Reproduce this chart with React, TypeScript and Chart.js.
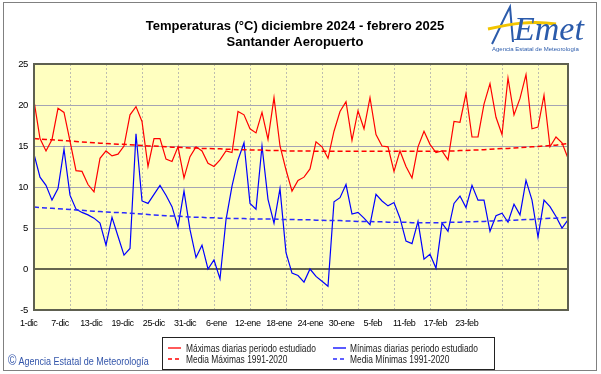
import React, { useEffect, useRef } from "react";
import { Chart, registerables } from "chart.js";

Chart.register(...registerables);

// ---- data ----
const monthNames = ["dic", "ene", "feb"];
const monthLengths = [31, 31, 28];

const xTickLabels = [
  "1-dic", "7-dic", "13-dic", "19-dic", "25-dic", "31-dic", "6-ene", "12-ene",
  "18-ene", "24-ene", "30-ene", "5-feb", "11-feb", "17-feb", "23-feb",
];

const yTicks = [-5, 0, 5, 10, 15, 20, 25];

const maxDaily = [
  20.5, 15.9, 14.4, 15.8, 19.6, 19.1, 15.6, 12.0, 11.9, 10.3,
  9.4, 13.5, 14.4, 13.8, 14.0, 15.0, 18.8, 19.8, 18.0, 12.5,
  15.9, 15.9, 13.4, 13.1, 14.9, 11.1, 13.7, 14.9, 14.4, 12.9,
  12.5, 13.3, 14.4, 14.2, 19.2, 18.8, 17.1, 16.6, 19.1, 15.8,
  20.9, 15.0, 12.1, 9.5, 10.8, 11.2, 12.2, 15.5, 14.9, 13.5,
  16.8, 19.2, 20.4, 15.7, 19.3, 17.1, 20.9, 16.4, 15.0, 14.9,
  11.9, 14.4, 12.5, 11.1, 14.9, 16.8, 15.2, 14.2, 14.4, 13.3,
  18.0, 17.9, 21.4, 16.1, 16.1, 20.1, 22.6, 18.5, 16.4, 23.3,
  18.8, 20.8, 23.7, 17.1, 17.3, 21.2, 14.9, 16.1, 15.4, 13.5,
];

const minDaily = [
  14.0, 11.2, 10.2, 8.4, 9.8, 14.6, 9.0, 7.3, 6.9, 6.6,
  6.2, 5.6, 2.9, 6.3, 4.0, 1.7, 2.5, 16.5, 8.3, 8.0,
  9.1, 10.2, 9.0, 7.6, 5.1, 9.5, 4.8, 1.4, 2.9, 0.0,
  1.1, -1.2, 6.0, 10.1, 13.3, 15.4, 8.0, 7.3, 15.0, 8.5,
  5.6, 9.8, 2.0, -0.5, -0.8, -1.6, 0.0, -0.9, -1.5, -2.1,
  8.2, 8.7, 10.3, 6.7, 6.9, 6.2, 5.4, 9.1, 8.3, 7.7,
  8.1, 6.2, 3.4, 3.1, 5.8, 1.2, 1.8, 0.1, 5.6, 4.6,
  8.0, 8.9, 7.5, 10.2, 8.4, 8.4, 4.6, 6.5, 6.8, 5.7,
  7.9, 6.6, 10.8, 8.4, 3.9, 8.4, 7.6, 6.4, 5.0, 6.0,
];

const maxMean = [
  15.9, 15.85, 15.8, 15.75, 15.7, 15.65, 15.6, 15.55, 15.5, 15.45,
  15.4, 15.35, 15.3, 15.25, 15.2, 15.2, 15.15, 15.1, 15.05, 15.0,
  15.0, 14.95, 14.9, 14.85, 14.85, 14.8, 14.75, 14.75, 14.7, 14.7,
  14.65, 14.65, 14.6, 14.6, 14.55, 14.55, 14.5, 14.5, 14.5, 14.45,
  14.45, 14.45, 14.4, 14.4, 14.4, 14.4, 14.4, 14.35, 14.35, 14.35,
  14.35, 14.35, 14.35, 14.35, 14.35, 14.35, 14.35, 14.35, 14.35, 14.35,
  14.35, 14.35, 14.35, 14.35, 14.35, 14.35, 14.35, 14.35, 14.4, 14.4,
  14.4, 14.45, 14.45, 14.5, 14.5, 14.55, 14.6, 14.65, 14.7, 14.7,
  14.75, 14.8, 14.85, 14.9, 14.95, 15.0, 15.05, 15.1, 15.2, 15.3,
];

const minMean = [
  7.55, 7.5, 7.45, 7.4, 7.35, 7.3, 7.25, 7.2, 7.15, 7.1,
  7.05, 7.0, 6.95, 6.9, 6.9, 6.85, 6.8, 6.75, 6.7, 6.65,
  6.6, 6.55, 6.5, 6.45, 6.45, 6.4, 6.35, 6.3, 6.3, 6.25,
  6.25, 6.2, 6.2, 6.15, 6.15, 6.15, 6.1, 6.1, 6.1, 6.1,
  6.1, 6.05, 6.05, 6.05, 6.0, 6.0, 6.0, 5.95, 5.95, 5.9,
  5.9, 5.9, 5.85, 5.85, 5.8, 5.8, 5.8, 5.75, 5.75, 5.7,
  5.7, 5.7, 5.7, 5.65, 5.65, 5.65, 5.65, 5.65, 5.65, 5.7,
  5.7, 5.7, 5.75, 5.75, 5.8, 5.8, 5.85, 5.85, 5.9, 5.95,
  5.95, 6.0, 6.05, 6.05, 6.1, 6.15, 6.2, 6.2, 6.25, 6.3,
];

const seriesNames = [
  "Máximas diarias periodo estudiado",
  "Mínimas diarias periodo estudiado",
  "Media Máximas 1991-2020",
  "Media Mínimas 1991-2020",
];

const days: string[] = [];
monthNames.forEach((m, i) => {
  for (let d = 1; d <= monthLengths[i]; d++) days.push(`${d}-${m}`);
});

// ---- style ----
const SANS = '"Liberation Sans", Arial, sans-serif';
const RED = "#ff0000";
const BLUE = "#0000ff";
const BLUE_MEAN = "#2a2aff";

const plotBg = {
  id: "plotBg",
  beforeDraw(chart: any) {
    const { ctx, chartArea: a } = chart;
    try { (ctx as any).letterSpacing = "-0.4px"; } catch (e) { /* ignore */ }
    ctx.save();
    ctx.fillStyle = "#ffffc0";
    ctx.fillRect(a.left, a.top, a.right - a.left, a.bottom - a.top);
    ctx.restore();
  },
  afterDatasetsDraw(chart: any) {
    const { ctx, chartArea: a } = chart;
    ctx.save();
    ctx.strokeStyle = "#5e6050";
    ctx.lineWidth = 2;
    ctx.strokeRect(a.left, a.top, a.right - a.left, a.bottom - a.top);
    ctx.restore();
  },
};

export default function App() {
  const ref = useRef<HTMLCanvasElement>(null);

  useEffect(() => {
    document.body.style.margin = "0";
    const canvas = ref.current!;
    const chart = new Chart(canvas, {
      type: "line",
      data: {
        labels: days,
        datasets: [
          { label: seriesNames[2], data: maxMean, borderColor: RED, borderWidth: 1.5, borderDash: [5, 3], pointRadius: 0, xAxisID: "x", yAxisID: "y" },
          { label: seriesNames[3], data: minMean, borderColor: BLUE_MEAN, borderWidth: 1.5, borderDash: [5, 3], pointRadius: 0, xAxisID: "x", yAxisID: "y" },
          { label: seriesNames[0], data: maxDaily, borderColor: RED, borderWidth: 1.2, pointRadius: 0, tension: 0, xAxisID: "x", yAxisID: "y" },
          { label: seriesNames[1], data: minDaily, borderColor: BLUE, borderWidth: 1.2, pointRadius: 0, tension: 0, xAxisID: "x", yAxisID: "y" },
        ],
      },
      options: {
        animation: false,
        responsive: false,
        maintainAspectRatio: false,
        layout: { padding: { left: 0, right: 33, top: 64, bottom: 44 } },
        plugins: { legend: { display: false }, tooltip: { enabled: false }, title: { display: false } },
        scales: {
          x: {
            type: "category",
            offset: false,
            ticks: { display: false, autoSkip: false },
            grid: {
              drawTicks: false,
              lineWidth: 1,
              color: (c: any) => (c.index % 6 === 0 && c.index > 0 && c.index < 89 ? "#bdbdb0" : "rgba(0,0,0,0)"),
            },
            border: { display: false, dash: [2, 2] },
            afterFit: (s: any) => { s.height = 0; },
          },
          x2: {
            type: "linear",
            position: "bottom",
            min: 0,
            max: 17.068,
            grid: { display: false, drawTicks: false },
            border: { display: false },
            ticks: {
              stepSize: 1,
              autoSkip: false,
              includeBounds: false,
              maxRotation: 0,
              padding: 8,
              labelOffset: -5.3,
              color: "#000",
              font: { family: SANS, size: 9 },
              callback: (v: any) => (Number.isInteger(v) && v >= 0 && v < xTickLabels.length ? xTickLabels[v] : ""),
            },
            afterFit: (s: any) => { s.height = 20; },
          } as any,
          y: {
            min: yTicks[0],
            max: yTicks[yTicks.length - 1],
            afterBuildTicks: (s: any) => { s.ticks = yTicks.map((v) => ({ value: v })); },
            ticks: { padding: 6, color: "#000", font: { family: SANS, size: 9.5 } },
            grid: {
              drawTicks: false,
              color: (c: any) => {
                const v = c.tick && c.tick.value;
                if (v === 0) return "#66664e";
                if (v === -5 || v === 25) return "rgba(0,0,0,0)";
                return "#a4a4b4";
              },
              lineWidth: (c: any) => (c.tick && c.tick.value === 0 ? 2 : 1),
            },
            border: { display: false },
            afterFit: (s: any) => { s.width = 34; },
          },
        },
      },
      plugins: [plotBg],
    });
    return () => chart.destroy();
  }, []);

  const legendText: React.CSSProperties = {
    position: "absolute",
    font: `10.5px ${SANS}`,
    color: "#1a1a1a",
    lineHeight: "12px",
    whiteSpace: "nowrap",
    transform: "scaleX(0.8)",
    transformOrigin: "0 0",
  };

  const sample = (x: number, y: number, color: string, dashed: boolean) => (
    <svg style={{ position: "absolute", left: x, top: y - 2, overflow: "visible" }} width={13} height={4}>
      <line x1={0} y1={2} x2={13} y2={2} stroke={color} strokeWidth={1.3} strokeDasharray={dashed ? "4,3" : undefined} />
    </svg>
  );

  return (
    <div style={{ position: "relative", width: 601, height: 374, background: "#fff", overflow: "hidden" }}>
      <div style={{ position: "absolute", left: 3, top: 2, width: 592, height: 367, border: "1px solid #808080" }} />
      <canvas ref={ref} width={601} height={374} style={{ position: "absolute", left: 0, top: 0 }} />
      <div style={{ position: "absolute", left: 0, width: 590, top: 18, textAlign: "center", font: `bold 13px ${SANS}`, lineHeight: "16px", color: "#000" }}>
        Temperaturas (°C) diciembre 2024 - febrero 2025
        <br />
        Santander Aeropuerto
      </div>
      <svg style={{ position: "absolute", left: 486, top: 2 }} width={110} height={54}>
        <path d="M6 42 C 12 30, 18 16, 24 5 C 25 16, 26 28, 27 40" fill="none" stroke="#2b5bab" strokeWidth={2} />
        <path d="M2 27 C 25 22, 45 18, 70 22" fill="none" stroke="#f2c500" strokeWidth={3} />
        <text x={28} y={38} fontFamily="Liberation Serif, serif" fontStyle="italic" fontSize={34} fill="#2b5bab">Emet</text>
        <text x={6} y={49} fontFamily={SANS} fontSize={6} fill="#2b5bab">Agencia Estatal de Meteorología</text>
      </svg>
      <div style={{ position: "absolute", left: 8, top: 354, font: `11px ${SANS}`, color: "#3355aa", whiteSpace: "nowrap", lineHeight: "12px", transform: "scaleX(0.82)", transformOrigin: "0 0" }}>
        <span style={{ fontSize: 14 }}>©</span> Agencia Estatal de Meteorología
      </div>
      <div style={{ position: "absolute", left: 162, top: 337, width: 331, height: 31, border: "1px solid #222" }} />
      {sample(168, 348, RED, false)}
      <div style={{ ...legendText, left: 186, top: 342 }}>{seriesNames[0]}</div>
      {sample(168, 359, RED, true)}
      <div style={{ ...legendText, left: 186, top: 353 }}>{seriesNames[2]}</div>
      {sample(333, 348, BLUE, false)}
      <div style={{ ...legendText, left: 350, top: 342 }}>{seriesNames[1]}</div>
      {sample(333, 359, BLUE_MEAN, true)}
      <div style={{ ...legendText, left: 350, top: 353 }}>{seriesNames[3]}</div>
    </div>
  );
}
